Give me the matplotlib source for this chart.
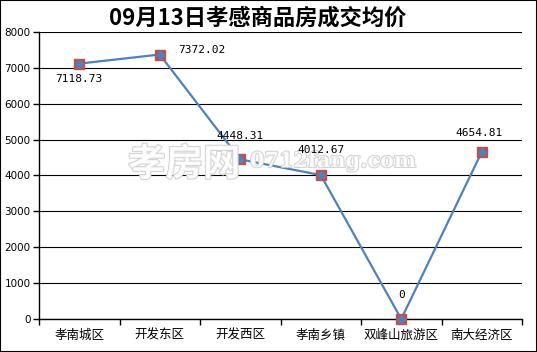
import matplotlib
matplotlib.use("Agg")
import matplotlib.pyplot as plt
import matplotlib.patheffects as pe
from matplotlib.patches import Rectangle

plt.rcParams['font.family'] = ['Noto Sans CJK SC', 'DejaVu Sans']

# data
districts = ['孝南城区', '开发东区', '开发西区', '孝南乡镇', '双峰山旅游区', '南大经济区']
prices = [7118.73, 7372.02, 4448.31, 4012.67, 0, 4654.81]
price_labels = ['7118.73', '7372.02', '4448.31', '4012.67', '0', '4654.81']
yticks = [0, 1000, 2000, 3000, 4000, 5000, 6000, 7000, 8000]

W, H = 537, 352
fig = plt.figure(figsize=(W / 100, H / 100), dpi=100)
ax = fig.add_axes([39 / W, 1 - 319 / H, (522 - 39) / W, (319 - 32) / H])

x = list(range(len(districts)))
ax.plot(x, prices, color='#4f81bd', lw=1.6, zorder=3)
ax.plot(x, prices, 's', color='#c0504d', ms=6.5, zorder=4, clip_on=False)
ax.plot(x, prices, 'D', color='#4f81bd', ms=4.5, zorder=5, clip_on=False)

# label offsets in points
offsets = [(0, -11), (30, 3), (0, 17), (0, 18), (0, 17), (-2, 14)]
for xi, yi, lab, off in zip(x, prices, price_labels, offsets):
    ax.annotate(lab, (xi, yi), xytext=off, textcoords='offset points',
                ha='center', va='center', fontsize=8, family='DejaVu Sans Mono',
                zorder=8)

ax.set_xlim(-0.5, len(districts) - 0.5)
ax.set_ylim(0, 8000)
ax.set_yticks(yticks)
ax.set_yticklabels([str(v) for v in yticks], fontsize=7.5, family='DejaVu Sans')
ax.set_xticks(x)
ax.set_xticklabels(districts, fontsize=9)
ax.set_xticks([i - 0.5 for i in range(len(districts) + 1)], minor=True)
ax.tick_params(axis='x', which='major', length=0, pad=7)
ax.tick_params(axis='x', which='minor', length=4, direction='out', width=1)
ax.tick_params(axis='y', length=4, direction='out', width=1, pad=2)
ax.grid(axis='y', color='black', lw=0.8)
ax.set_axisbelow(True)
for s in ['top', 'right']:
    ax.spines[s].set_visible(False)
ax.spines['left'].set_linewidth(1)
ax.spines['bottom'].set_linewidth(1)

# watermark (white fill, grey outline, drawn over the line but under the labels)
wm = [pe.withStroke(linewidth=1.5, foreground='#cccccc')]
ax.text(128 / W, 1 - 164 / H, '孝房网', fontsize=27, color='white', weight='bold',
        va='center', ha='left', zorder=6, alpha=0.85, path_effects=wm,
        transform=fig.transFigure)
ax.text(250 / W, 1 - 161 / H, '0712fang.com', fontsize=15, color='white', weight='bold',
        va='center', ha='left', family='DejaVu Serif', zorder=6, alpha=0.85,
        path_effects=wm, transform=fig.transFigure)

fig.text(258 / W, 1 - 18 / H, '09月13日孝感商品房成交均价', fontsize=16, weight='bold',
         ha='center', va='center')

fig.patches.append(Rectangle((0, 0), 1, 1, transform=fig.transFigure, fill=False,
                             edgecolor='black', lw=1.5))

fig.savefig('out.png', dpi=100)
